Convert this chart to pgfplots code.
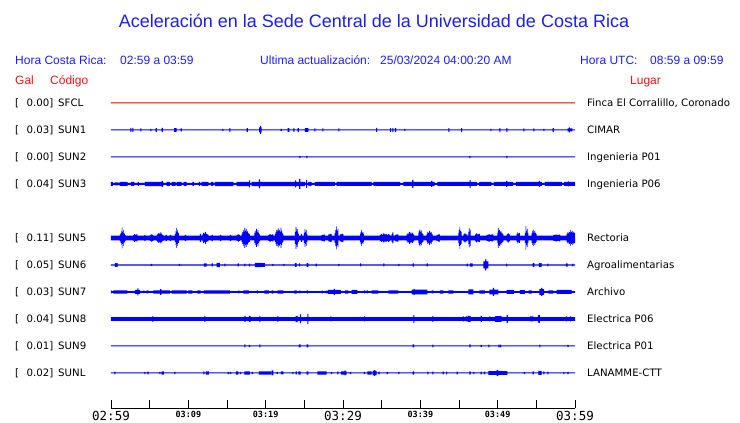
\documentclass[border=0pt]{standalone}
\usepackage{fontspec}
\usepackage{pgfplots}
\usepackage{pgfplotstable}
\usepgfplotslibrary{fillbetween}
\pgfplotsset{compat=1.18}
\newfontfamily\hdr{Liberation Sans}
\newfontfamily\lab{DejaVu Sans}
\newfontfamily\mono{DejaVu Sans Mono}
\definecolor{txtblue}{RGB}{30,30,235}
\definecolor{txtred}{RGB}{235,20,20}
\definecolor{trblue}{RGB}{0,0,255}
\definecolor{trred}{RGB}{230,0,0}

% t = minutes after 02:59, a = half amplitude (px)
\pgfplotstableread{
t a
0 0.5
60 0.5
}\tsfcl
\pgfplotstableread{
t a
0 0.5
2.50 2
2.65 0.5
2.75 2
2.90 0.5
3.79 1.5
3.94 0.5
5.08 1.2
5.23 0.5
5.78 1.8
5.93 0.5
6.56 2
6.71 0.5
8.15 1.8
8.50 0.5
9.01 1.5
9.16 0.5
14.39 1
14.54 0.5
15.30 1.8
15.45 0.5
17.55 1.8
17.70 0.5
19.14 2.5
19.28 4
19.40 2.5
19.49 0.5
21.94 1
22.09 0.5
22.85 1.8
23.06 0.5
23.57 1.8
23.72 0.5
24.14 1.8
24.29 0.5
25.08 1.8
25.51 0.5
26.29 1.5
26.44 0.5
27.32 1.5
27.47 0.5
29.39 1.5
29.54 0.5
34.27 2
34.42 0.5
36.08 1.8
36.23 0.5
36.37 1.8
36.52 0.5
36.72 1.8
36.87 0.5
37.93 1
38.08 0.5
43.61 1.8
43.76 0.5
45.26 1.8
45.41 0.5
49.05 1
49.20 0.5
50.21 1.8
50.36 0.5
51.11 1.8
51.26 0.5
53.31 1.5
53.46 0.5
54.61 1.5
54.76 0.5
55.90 1
56.05 0.5
57.11 1.8
57.26 0.5
59.05 1.5
59.20 2.5
59.35 1.5
59.65 0.5
60 0.5
}\tsuna
\pgfplotstableread{
t a
0 0.5
24.35 1.2
24.50 0.5
25.25 1.2
25.40 0.5
46.33 1.2
46.48 0.5
51.11 1.2
51.26 0.5
60 0.5
}\tsunb
\pgfplotstableread{
t a
0 2
0.25 1
0.51 1.5
0.94 1
1.12 2
2.15 1
2.58 2
3.01 1
3.44 2
3.62 1
4.39 2.2
6.55 3
6.70 2.2
6.76 1
7.19 2
7.62 1
7.84 2
8.36 1
8.49 2
9.13 1
9.39 2
9.78 1
10.51 2
10.71 1
11.37 2
11.52 1
11.72 2
12.58 1
12.93 2
13.23 1
13.44 2.2
15.81 1
16.24 2.2
17.85 3.5
18.00 1
18.18 2.2
19.12 4.5
19.27 2.2
23.80 3.5
23.95 2.2
24.33 5
24.48 2.2
25.10 1
25.22 4
25.37 1
25.51 2
25.94 1
26.37 2
28.96 1
29.18 2
33.70 1
33.92 2
37.37 1
37.80 2
38.95 4
39.10 2
41.40 3
41.55 2
41.86 1
42.20 2
46.36 4
46.51 2
47.30 1
47.60 2
49.20 1
49.50 2
51.10 3
51.25 2
52.00 1
52.40 2
55.32 3
55.47 2
55.70 1
56.10 2
58.30 1
58.60 2
59.07 2.5
59.22 2
60 2
}\tsunc
\pgfplotstableread{
t a
0 2.4
1.16 3.5
1.25 5
1.33 7
1.40 10.5
1.48 6
1.56 8
1.64 5
1.72 4
1.80 3
1.89 2.4
2.88 3
3.00 3.8
3.12 3
3.25 3.5
3.40 2.4
4.31 3
4.45 2.4
5.04 3
5.20 3.6
5.32 3
5.47 2.4
5.90 3
6.00 4
6.12 5
6.25 4
6.38 5.5
6.50 4
6.62 3
6.76 2.4
7.06 3.2
7.21 2.4
7.62 3.2
7.77 2.4
8.27 4
8.35 7
8.42 10
8.50 6
8.58 8
8.66 5
8.79 2.4
9.56 3.2
9.71 2.4
11.50 4
11.65 2.4
11.81 3.5
11.92 5
12.04 4
12.15 6
12.27 4
12.40 3.5
12.58 2.4
13.01 3.2
13.16 2.4
14.09 3.2
14.24 2.4
15.38 3.2
15.53 2.4
16.24 3
16.40 3.6
16.55 3
16.68 2.4
16.89 4
16.98 6
17.07 8
17.16 6
17.26 10
17.35 7
17.44 9
17.53 6
17.62 7
17.71 5
17.80 4
17.97 2.4
18.53 5
18.62 7
18.70 5
18.78 9
18.87 6
18.96 8
19.05 5
19.15 3.5
19.26 2.4
20.34 3
20.50 3.8
20.65 3
20.80 3.5
20.99 2.4
21.20 4
21.30 6
21.40 8
21.50 6
21.58 9.5
21.67 7
21.76 8
21.85 6
21.93 10
22.02 7
22.12 5
22.20 4
22.28 2.4
23.79 6
23.88 11
23.96 7
24.04 9
24.12 6
24.21 4
24.30 2.4
24.56 4
24.71 2.4
24.95 5
25.03 9
25.11 6
25.19 8
25.28 4
25.38 2.4
27.24 3
27.45 3.4
27.67 2.4
28.10 3.5
28.30 4
28.53 2.4
28.92 5
29.00 8
29.13 11.5
29.22 7
29.31 9
29.40 2.4
29.61 3.5
29.80 4.2
30.04 2.4
32.20 4
32.29 6
32.36 8
32.45 5
32.54 6
32.62 4
32.71 2.4
34.78 3
34.90 4
35.05 3.2
35.20 4.5
35.35 3.5
35.50 4
35.65 3
35.80 3.8
35.95 3
36.08 2.4
36.29 4
36.38 5.5
36.51 2.4
36.72 3
36.90 3.6
37.15 2.4
38.23 3.5
38.35 5
38.45 4
38.55 6
38.65 4.5
38.75 5.5
38.85 4
38.95 5
39.07 3.5
39.18 2.4
39.74 5
39.82 7
39.90 8.5
39.98 6
40.06 7.5
40.15 5
40.25 4
40.39 2.4
40.82 4
40.92 6
41.02 5
41.12 7
41.22 5
41.32 6
41.45 4
41.59 2.4
42.11 3
42.30 3.6
42.54 2.4
44.91 5
44.99 8
45.08 11
45.16 7
45.25 6
45.34 2.4
45.56 3.5
45.70 4.5
45.85 3.5
46.07 2.4
46.20 6
46.28 9.5
46.36 6
46.44 8
46.51 2.4
47.07 3.5
47.20 4.5
47.35 3.5
47.50 4
47.71 2.4
48.57 3
48.80 3.6
49.00 3
49.20 3.5
49.44 2.4
49.95 5
50.03 10
50.11 7
50.20 8
50.29 6
50.38 7
50.48 5
50.60 4
50.73 2.4
51.16 3.5
51.30 4.5
51.45 3.5
51.59 2.4
52.45 4
52.55 5.5
52.65 4
52.75 5
52.88 2.4
53.53 5
53.61 12
53.69 7
53.78 9
53.87 5
53.96 2.4
54.39 5
54.48 7
54.56 8
54.65 5
54.74 7
54.84 5
54.94 4
55.04 2.4
57.20 3
57.45 3.4
57.70 3
57.90 3.3
58.06 2.4
58.92 4
59.02 5.5
59.12 4.5
59.22 6
59.32 5
59.39 8
59.48 6
59.58 7
59.68 5
59.78 6
59.88 5
60 5
}\tsune
\pgfplotstableread{
t a
0 0.6
0.51 1.8
0.86 0.6
5.17 1
5.32 0.6
8.79 1
8.94 0.6
12.02 1.7
12.37 0.6
13.01 1.5
13.16 0.6
13.66 2.2
14.09 0.6
14.65 1.3
14.80 0.6
16.37 1.5
16.52 0.6
17.24 1.3
17.39 0.6
17.84 1.3
17.99 0.6
18.62 2.2
19.48 1.8
19.91 0.6
20.86 1.2
21.01 0.6
22.28 1.2
22.43 0.6
23.79 1.8
24.00 0.6
24.30 1.5
24.45 0.6
25.30 1.8
25.51 0.6
26.46 1.3
26.61 0.6
29.39 1.2
29.54 0.6
32.20 1.5
32.35 0.6
35.21 1.5
35.36 0.6
37.15 1
37.30 0.6
39.01 1.7
39.16 0.6
40.82 1.5
40.97 0.6
45.99 1.3
46.14 0.6
46.42 1.7
46.77 0.6
48.14 3.5
48.38 5.5
48.53 3.5
48.79 0.6
51.08 1.3
51.23 0.6
54.52 1.8
54.74 0.6
55.34 1.8
55.69 0.6
56.42 1.3
56.57 0.6
58.83 1.6
59.05 0.6
59.65 1.3
59.80 0.6
60 0.6
}\tsunf
\pgfplotstableread{
t a
0 1.5
0.08 0.8
0.30 1.7
2.11 0.8
3.10 2
3.40 3.5
3.55 2
3.75 0.8
4.18 1.5
4.33 0.8
4.61 1.5
4.82 0.8
5.47 1.7
6.35 2.8
6.50 1.7
7.62 0.8
7.84 1.7
9.78 0.8
9.99 1.7
10.51 0.8
11.16 1.7
11.59 0.8
12.02 1.7
15.38 0.8
16.46 1.5
16.61 0.8
17.11 1.7
17.84 0.8
18.83 1.5
18.98 0.8
19.82 1.7
20.43 0.8
20.77 1.7
20.99 0.8
21.55 1.7
22.28 0.8
23.70 1.7
24.00 0.8
24.35 1.5
24.50 0.8
25.30 1.5
25.45 0.8
27.24 1.3
27.39 0.8
27.75 1.3
27.90 0.8
28.01 2
28.80 3
28.95 2
29.74 0.8
30.26 1.7
30.69 0.8
31.12 2
31.85 0.8
32.71 1.5
32.86 0.8
33.06 1.5
33.21 0.8
33.70 1.7
34.57 0.8
35.86 1.7
37.15 0.8
38.88 2.3
39.12 3
39.27 2.3
40.90 0.8
41.46 1.5
41.68 0.8
42.54 1.7
42.97 0.8
43.62 1.7
44.27 0.8
46.20 2.5
46.85 0.8
47.63 1.7
48.36 0.8
48.92 2.3
49.38 4
49.53 2.3
50.08 0.8
51.16 2
52.11 0.8
52.88 1.8
53.53 0.8
54.00 1.7
54.39 0.8
55.38 2.8
55.62 4
55.77 2.8
55.99 0.8
56.55 1.7
57.20 0.8
57.63 2
59.57 0.8
60 0.8
}\tsung
\pgfplotstableread{
t a
0 1.8
5.34 2.8
5.49 1.8
12.06 3
12.21 1.8
17.24 3
17.41 1.8
17.84 3
18.06 1.8
19.18 3.2
19.33 1.8
21.50 2.8
21.65 1.8
23.87 3.2
24.13 1.8
24.43 4.5
24.58 1.8
25.38 5
25.53 1.8
28.36 2.5
28.51 1.8
32.71 2.5
32.86 1.8
39.09 4
39.24 1.8
41.55 3
41.70 1.8
45.47 2.5
45.62 1.8
45.90 2.5
46.05 1.8
46.12 3
46.51 1.8
47.80 3
47.95 1.8
48.92 2.5
49.07 1.8
49.65 2.8
50.51 1.8
51.16 4
51.31 1.8
54.18 2.5
54.61 1.8
55.21 3.5
55.30 4
55.45 1.8
58.83 2.5
58.98 1.8
59.35 2.5
59.50 1.8
60 1.8
}\tsunh
\pgfplotstableread{
t a
0 0.5
17.24 1.5
17.39 0.5
17.84 1.2
17.99 0.5
19.18 1.5
19.33 0.5
24.30 1.5
24.52 0.5
25.30 1.5
25.51 0.5
39.01 1.5
39.18 0.5
41.55 1.3
41.70 0.5
46.33 1.5
46.51 0.5
47.80 1
47.95 0.5
48.79 1.3
48.94 0.5
50.08 1.3
50.23 0.5
50.30 1.3
50.45 0.5
55.38 1.3
55.53 0.5
59.01 1
59.16 0.5
60 0.5
}\tsuni
\pgfplotstableread{
t a
0 0.5
0.43 1.3
0.58 0.5
4.31 1.2
4.46 0.5
4.70 1.3
4.85 0.5
6.25 1.2
6.40 0.5
6.55 1.7
6.85 0.5
8.19 1.2
8.34 0.5
11.93 1.5
12.06 0.5
12.28 1.7
12.67 0.5
15.08 1.2
15.23 0.5
15.38 1.2
15.53 0.5
16.16 1.7
16.46 0.5
16.68 1.2
16.83 0.5
17.24 1.7
17.97 0.5
18.18 1.2
18.33 0.5
19.13 1.7
20.69 0.5
20.77 2.5
20.99 0.5
21.42 1.2
21.57 0.5
21.98 1.5
22.28 0.5
23.44 1.2
23.59 0.5
23.87 1.5
24.02 0.5
24.22 1.7
24.52 0.5
25.30 1.7
25.51 0.5
26.68 1.7
27.88 0.5
28.44 1.2
28.59 0.5
29.26 1.5
29.39 0.5
29.74 1.7
30.20 2.5
30.35 1.7
30.47 0.5
30.90 1.2
31.05 0.5
32.71 1.2
32.86 0.5
33.14 1.7
33.70 0.5
33.83 2.2
34.00 2.8
34.15 2.2
34.35 0.5
34.57 1.3
34.72 0.5
35.64 1.2
35.79 0.5
37.15 1.2
37.30 0.5
39.01 1.7
39.18 0.5
40.90 1.3
41.05 0.5
41.55 1.3
41.70 0.5
42.89 1.3
43.04 0.5
43.32 1.3
43.47 0.5
44.70 1.3
44.85 0.5
46.33 1.7
46.51 0.5
46.85 1.2
47.00 0.5
47.80 1.3
47.95 0.5
48.23 1.3
48.38 0.5
48.79 1.8
49.87 3
50.08 1.8
51.25 0.5
53.40 1.2
53.55 0.5
54.52 1.5
54.67 0.5
55.26 2
55.69 0.5
55.90 1.5
56.05 0.5
56.42 1.3
56.57 0.5
58.49 1.2
58.64 0.5
59.01 1.2
59.16 0.5
60 0.5
}\tsunl

\newcommand\trace[4]{%
  \addplot[name path=#4u, draw=none, const plot, forget plot] table[x=t, y expr={#2-\thisrow{a}}] {#1};
  \addplot[name path=#4l, draw=none, const plot, forget plot] table[x=t, y expr={#2+\thisrow{a}}] {#1};
  \addplot[fill=#3, draw=none, forget plot] fill between[of=#4u and #4l];
}
\newcommand\rowlab[5]{%
  \node[anchor=base west] at (15,#1+3.7) {[};
  \node[anchor=base east] at (53.5,#1+3.7) {#2]};
  \node[anchor=base west] at (58,#1+3.7) {#3};
  \node[anchor=base west] at (587,#1+3.7) {#4};
}

\begin{document}
\begin{tikzpicture}
\path (0,0) rectangle (740bp,423bp);
\begin{axis}[at={(0,0)}, anchor=south west, scale only axis,
  width=740bp, height=423bp, xmin=-14.353, xmax=81.336,
  ymin=0, ymax=423, y dir=reverse, hide axis, clip=false,
  fill between/on layer=main]
\trace{\tsfcl}{103}{trred}{sfcl}
\trace{\tsuna}{130}{trblue}{suna}
\trace{\tsunb}{157}{trblue}{sunb}
\trace{\tsunc}{184}{trblue}{sunc}
\trace{\tsune}{238}{trblue}{sune}
\trace{\tsunf}{265}{trblue}{sunf}
\trace{\tsung}{292}{trblue}{sung}
\trace{\tsunh}{319}{trblue}{sunh}
\trace{\tsuni}{346}{trblue}{suni}
\trace{\tsunl}{373}{trblue}{sunl}
\end{axis}
\begin{axis}[at={(111bp,15bp)}, anchor=south west, scale only axis,
  width=464bp, height=20bp, xmin=0, xmax=60, ymin=0, ymax=1,
  axis x line*=bottom, axis y line=none,
  xtick={0,5,...,60},
  xticklabels={{\fontsize{12.5bp}{13bp}\mono 02:59},{},{\fontsize{8.5bp}{9bp}\mono\bfseries 03:09},{},{\fontsize{8.5bp}{9bp}\mono\bfseries 03:19},{},{\fontsize{12.5bp}{13bp}\mono 03:29},{},{\fontsize{8.5bp}{9bp}\mono\bfseries 03:39},{},{\fontsize{8.5bp}{9bp}\mono\bfseries 03:49},{},{\fontsize{12.5bp}{13bp}\mono 03:59}},
  tick align=inside, major tick length=8bp,
  tick style={black, line width=0.8bp},
  axis line style={black, line width=0.8bp},
  xticklabel style={anchor=north, inner sep=0pt, yshift=-3bp}]
\end{axis}
\begin{scope}[shift={(0,423bp)}, x=1bp, y=-1bp, every node/.style={inner sep=0pt}]
\node[anchor=base, text=txtblue, font=\hdr\fontsize{18bp}{20bp}\selectfont] at (374,28) {Aceleración en la Sede Central de la Universidad de Costa Rica};
\begin{scope}[every node/.append style={text=txtblue, font=\hdr\fontsize{12bp}{14bp}\selectfont}]
\node[anchor=base west] at (15,65) {Hora Costa Rica:};
\node[anchor=base west] at (120,65) {02:59 a 03:59};
\node[anchor=base west] at (260,65) {Ultima actualización:};
\node[anchor=base west] at (380,65) {25/03/2024 04:00:20 AM};
\node[anchor=base west] at (580,65) {Hora UTC:};
\node[anchor=base west] at (650,65) {08:59 a 09:59};
\end{scope}
\begin{scope}[every node/.append style={text=txtred, font=\hdr\fontsize{12bp}{14bp}\selectfont}]
\node[anchor=base west] at (15,85) {Gal};
\node[anchor=base west] at (50,85) {Código};
\node[anchor=base west] at (630,85) {Lugar};
\end{scope}
\begin{scope}[every node/.append style={text=black, font=\lab\fontsize{10.2bp}{12bp}\selectfont}]
\rowlab{103}{0.00}{SFCL}{Finca El Corralillo, Coronado}{}
\rowlab{130}{0.03}{SUN1}{CIMAR}{}
\rowlab{157}{0.00}{SUN2}{Ingenieria P01}{}
\rowlab{184}{0.04}{SUN3}{Ingenieria P06}{}
\rowlab{238}{0.11}{SUN5}{Rectoria}{}
\rowlab{265}{0.05}{SUN6}{Agroalimentarias}{}
\rowlab{292}{0.03}{SUN7}{Archivo}{}
\rowlab{319}{0.04}{SUN8}{Electrica P06}{}
\rowlab{346}{0.01}{SUN9}{Electrica P01}{}
\rowlab{373}{0.02}{SUNL}{LANAMME-CTT}{}
\end{scope}
\end{scope}
\end{tikzpicture}
\end{document}
